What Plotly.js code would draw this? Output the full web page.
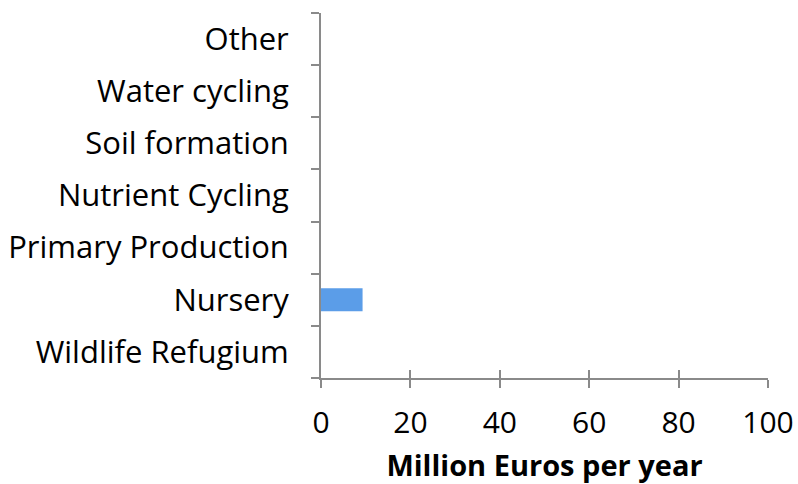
<!DOCTYPE html>
<html>
<head>
<meta charset="utf-8">
<script src="https://cdn.plot.ly/plotly-3.0.1.min.js"></script>
<style>html,body{margin:0;padding:0;background:#fff;}#chart{width:798px;height:484px;}</style>
</head>
<body>
<div id="chart"></div>
<script>
var categories = ["Wildlife Refugium", "Nursery", "Primary Production", "Nutrient Cycling", "Soil formation", "Water cycling", "Other"];
var values = [0, 9.3, 0, 0, 0, 0, 0];
var xTicks = [0, 20, 40, 60, 80, 100];
var xTitle = "Million Euros per year";

var axisColor = "#8a8a8a";
var fontFamily = "'Open Sans', 'DejaVu Sans', sans-serif";

var data = [{
  type: "bar",
  orientation: "h",
  y: categories,
  x: values,
  marker: {color: "#5b9de8", line: {width: 0}},
  hoverinfo: "none"
}, {
  type: "scatter", x: [null], y: [null], xaxis: "x2", yaxis: "y", showlegend: false, hoverinfo: "none"
}];

var layout = {
  width: 798, height: 484,
  margin: {l: 321, r: 30, t: 13, b: 106, pad: 0},
  paper_bgcolor: "#fff", plot_bgcolor: "#fff",
  showlegend: false,
  bargap: 0.56,
  font: {family: fontFamily, color: "#000"},
  xaxis: {
    range: [0, 100], tickvals: xTicks, ticktext: xTicks.map(String),
    showgrid: false, zeroline: false,
    showline: true, linecolor: axisColor, linewidth: 2,
    ticks: "outside", ticklen: 8, tickwidth: 2, tickcolor: axisColor,
    tickfont: {size: 30, family: fontFamily, color: "#000"},
    ticklabelstandoff: 9,
    title: {text: "<b>" + xTitle + "</b>", font: {size: 29, family: fontFamily, color: "#000"}, standoff: 18},
    fixedrange: true
  },
  xaxis2: {
    overlaying: "x", matches: "x", anchor: "y", side: "bottom",
    range: [0, 100], tickvals: xTicks, showticklabels: false,
    showgrid: false, zeroline: false, showline: false,
    ticks: "inside", ticklen: 8, tickwidth: 2, tickcolor: axisColor
  },
  yaxis: {
    type: "category", categoryorder: "array", categoryarray: categories,
    range: [-0.5, 6.5],
    showgrid: false, zeroline: false,
    showline: true, linecolor: axisColor, linewidth: 2,
    ticks: "outside", tickson: "boundaries", ticklen: 8, tickwidth: 2, tickcolor: axisColor,
    tickfont: {size: 31, family: fontFamily, color: "#000"},
    ticklabelstandoff: 24,
    fixedrange: true
  }
};

Plotly.newPlot("chart", data, layout, {displayModeBar: false, staticPlot: true});
</script>
</body>
</html>
